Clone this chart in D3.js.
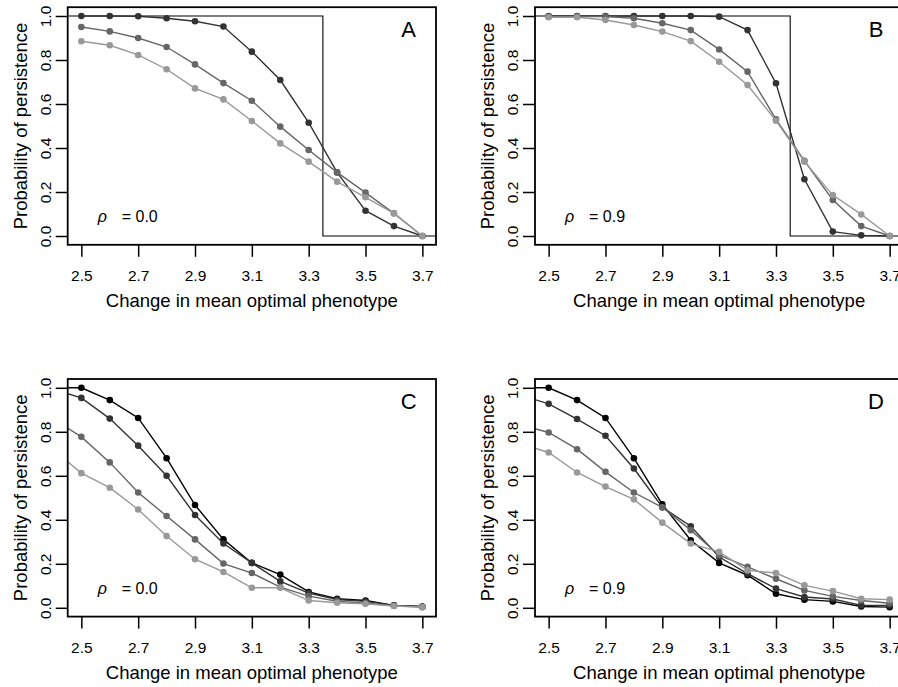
<!DOCTYPE html>
<html>
<head>
<meta charset="utf-8">
<script src="https://d3js.org/d3.v7.min.js"></script>
<style>
  body { margin: 0; background: #fff; }
  svg { display: block; font-family: "Liberation Sans", Arial, Helvetica, sans-serif; }
</style>
</head>
<body>
<div id="graph"></div>
<script>
var WIDTH = 898;
var HEIGHT = 687;

// x values
var xAB = [2.5, 2.6, 2.7, 2.8, 2.9, 3.0, 3.1, 3.2, 3.3, 3.4, 3.5, 3.6, 3.7];
var xCD = [2.4, 2.5, 2.6, 2.7, 2.8, 2.9, 3.0, 3.1, 3.2, 3.3, 3.4, 3.5, 3.6, 3.7];
var xTicks = [2.5, 2.7, 2.9, 3.1, 3.3, 3.5, 3.7];
var yTicks = [0, 0.2, 0.4, 0.6, 0.8, 1.0];

// panel A (rho = 0.0)
var pA1 = [1.0, 1.0, 0.999, 0.99, 0.976, 0.952, 0.838, 0.709, 0.515, 0.289, 0.115, 0.045, 0.0];
var pA2 = [0.95, 0.93, 0.90, 0.859, 0.78, 0.695, 0.615, 0.497, 0.391, 0.289, 0.197, 0.103, 0.0];
var pA3 = [0.885, 0.867, 0.823, 0.758, 0.671, 0.621, 0.523, 0.421, 0.338, 0.247, 0.176, 0.103, 0.0];

// panel B (rho = 0.9)
var pB1 = [1.0, 1.0, 1.0, 1.0, 1.0, 1.0, 0.997, 0.936, 0.694, 0.258, 0.02, 0.003, 0.0];
var pB2 = [0.997, 0.997, 0.997, 0.99, 0.967, 0.936, 0.848, 0.747, 0.53, 0.342, 0.164, 0.045, 0.0];
var pB3 = [0.994, 0.994, 0.982, 0.959, 0.929, 0.886, 0.792, 0.686, 0.524, 0.338, 0.186, 0.098, 0.0];

// panel C (rho = 0.0)
var pC1 = [1.0, 1.0, 0.944, 0.863, 0.68, 0.467, 0.311, 0.204, 0.151, 0.072, 0.041, 0.033, 0.011, 0.006];
var pC2 = [0.994, 0.954, 0.86, 0.737, 0.6, 0.422, 0.292, 0.204, 0.12, 0.067, 0.038, 0.029, 0.011, 0.005];
var pC3 = [0.859, 0.777, 0.661, 0.524, 0.417, 0.311, 0.201, 0.158, 0.094, 0.053, 0.03, 0.021, 0.009, 0.003];
var pC4 = [0.72, 0.612, 0.546, 0.447, 0.326, 0.221, 0.163, 0.091, 0.091, 0.033, 0.023, 0.018, 0.008, 0.003];

// panel D (rho = 0.9)
var pD1 = [1.0, 1.0, 0.944, 0.863, 0.68, 0.47, 0.307, 0.204, 0.148, 0.064, 0.037, 0.029, 0.006, 0.003];
var pD2 = [0.967, 0.927, 0.858, 0.782, 0.633, 0.457, 0.371, 0.231, 0.155, 0.087, 0.049, 0.04, 0.011, 0.011];
var pD3 = [0.832, 0.797, 0.721, 0.618, 0.524, 0.457, 0.353, 0.239, 0.186, 0.132, 0.079, 0.052, 0.033, 0.021];
var pD4 = [0.746, 0.706, 0.615, 0.551, 0.493, 0.387, 0.292, 0.254, 0.17, 0.158, 0.102, 0.076, 0.041, 0.037];

// threshold step drawn in A and B
var stepX = [2.0, 3.35, 3.35, 4.0];
var stepY = [1, 1, 0, 0];

var greys3 = ["#333333", "#666666", "#999999"];
var greys4 = ["#000000", "#333333", "#666666", "#999999"];

var panels = [
    { id: "A", rho: "0.0", x: xAB, series: [pA1, pA2, pA3], colors: greys3, step: true, left: 67.7, top: 7.2 },
    { id: "B", rho: "0.9", x: xAB, series: [pB1, pB2, pB3], colors: greys3, step: true, left: 535, top: 7.2 },
    { id: "C", rho: "0.0", x: xCD, series: [pC1, pC2, pC3, pC4], colors: greys4, step: false, left: 67.7, top: 379 },
    { id: "D", rho: "0.9", x: xCD, series: [pD1, pD2, pD3, pD4], colors: greys4, step: false, left: 535, top: 379 }
];

var PW = 368.3;
var PH = 237.6;

var svg = d3.select("#graph").append("svg")
    .attr("width", WIDTH)
    .attr("height", HEIGHT);

var x = d3.scaleLinear().domain([2.452, 3.748]).range([0, PW]);
var y = d3.scaleLinear().domain([-0.04, 1.04]).range([PH, 0]);

var line = d3.line()
    .x(function(d) { return x(d[0]); })
    .y(function(d) { return y(d[1]); });

panels.forEach(plotPanel);

function plotPanel(p, i) {
    var g = svg.append("g").attr("transform", "translate(" + p.left + "," + p.top + ")");

    g.append("clipPath").attr("id", "clip" + i)
        .append("rect").attr("width", PW).attr("height", PH);

    var plot = g.append("g").attr("clip-path", "url(#clip" + i + ")");

    if (p.step) {
        plot.append("path")
            .datum(d3.zip(stepX, stepY))
            .attr("d", line)
            .attr("fill", "none")
            .attr("stroke", "#000")
            .attr("stroke-width", 1.1);
    }

    p.series.forEach(function(s, k) {
        var pts = d3.zip(p.x, s);
        plot.append("path")
            .datum(pts)
            .attr("d", line)
            .attr("fill", "none")
            .attr("stroke", p.colors[k])
            .attr("stroke-width", 1.4);
        plot.selectAll(null)
            .data(pts)
            .enter().append("circle")
            .attr("cx", function(d) { return x(d[0]); })
            .attr("cy", function(d) { return y(d[1]); })
            .attr("r", 3.3)
            .attr("fill", p.colors[k]);
    });

    // box
    g.append("rect")
        .attr("width", PW).attr("height", PH)
        .attr("fill", "none")
        .attr("stroke", "#000")
        .attr("stroke-width", 1.8);

    // x axis
    var xa = g.append("g")
        .attr("transform", "translate(0," + PH + ")")
        .call(d3.axisBottom(x).tickValues(xTicks).tickSize(12).tickPadding(0).tickFormat(d3.format(".1f")));
    xa.select(".domain").remove();
    xa.selectAll("line").attr("stroke-width", 1.5);
    xa.selectAll("text")
        .attr("y", 36).attr("dy", 0)
        .attr("fill", "#000")
        .style("font-size", "15.5px");

    // y axis
    var ya = g.append("g")
        .call(d3.axisLeft(y).tickValues(yTicks).tickSize(12).tickFormat(d3.format(".1f")));
    ya.select(".domain").remove();
    ya.selectAll("line").attr("stroke-width", 1.5);
    ya.selectAll("text")
        .attr("transform", "rotate(-90)")
        .attr("x", 0).attr("y", -17).attr("dy", 0)
        .attr("text-anchor", "middle")
        .attr("fill", "#000")
        .style("font-size", "15.5px");

    g.append("text")
        .attr("x", PW / 2).attr("y", PH + 62)
        .attr("text-anchor", "middle")
        .style("font-size", "18.5px")
        .text("Change in mean optimal phenotype");

    g.append("text")
        .attr("transform", "translate(-41," + (PH / 2) + ") rotate(-90)")
        .attr("text-anchor", "middle")
        .style("font-size", "18.5px")
        .text("Probability of persistence");

    g.append("text")
        .attr("x", 341).attr("y", 30)
        .attr("text-anchor", "middle")
        .style("font-size", "22px")
        .text(p.id);

    var rt = g.append("text").attr("y", 214.5).style("font-size", "16px");
    rt.append("tspan").attr("x", 30).style("font-style", "italic").text("\u03c1");
    rt.append("tspan").attr("x", 54).text("= " + p.rho);
}
</script>
</body>
</html>
